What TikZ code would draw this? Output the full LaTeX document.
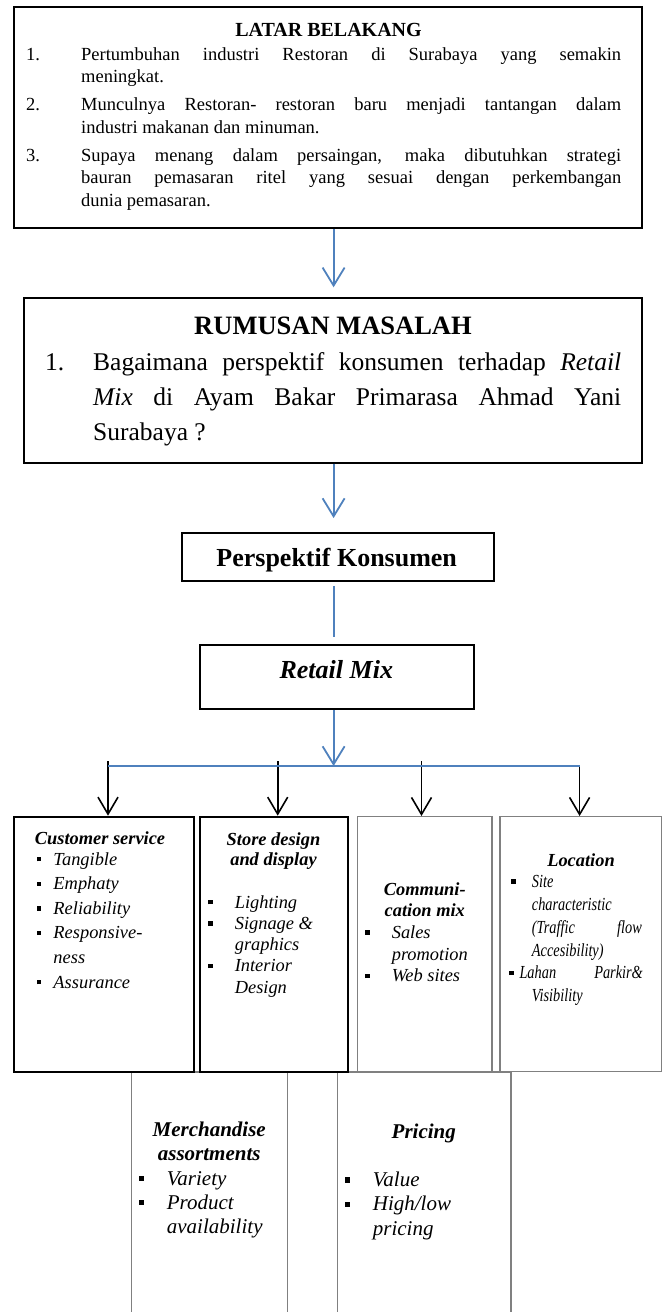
\documentclass[tikz,border=0pt]{standalone}
\usepackage{fontspec}
\setmainfont{Liberation Serif}
\newfontfamily\narrowserif[FakeStretch=0.78]{Liberation Serif}
\usepackage{tikz}
\usetikzlibrary{arrows.meta,positioning}
\definecolor{lineblue}{HTML}{4F81BD}
\definecolor{boxgray}{HTML}{808080}
\newcommand{\sqb}{\rule[0.2em]{0.24em}{0.24em}}
\newcommand{\bul}[1]{\makebox[#1][l]{\sqb}}

\begin{document}
\begin{tikzpicture}[x=1pt, y=-1pt,
    box/.style={draw, line width=2pt, inner sep=0pt},
    graybox/.style={draw=boxgray, line width=1.4pt, inner sep=0pt},
    blueline/.style={draw=lineblue, line width=1.8pt},
    bluearrow/.style={blueline, -{Straight Barb[length=18pt, width=22pt]}},
    blackarrow/.style={line width=1.6pt, -{Straight Barb[length=17pt, width=20pt]}},
    txt/.style={inner sep=0pt, anchor=base west, align=left},
    head/.style={inner sep=0pt, anchor=base, align=center}]
      \useasboundingbox (0,0) rectangle (669,1312);
      \clip (0,0) rectangle (669,1312);

      % boxes
      \node[box, minimum width=628pt, minimum height=221pt] (latar) at (328,117.5) {};
      \node[box, minimum width=617.7pt, minimum height=164.4pt] (rumusan) at (333.2,380.5) {};
      \node[box, minimum width=311.6pt, minimum height=47.7pt] (persp) at (337.8,556.9) {};
      \node[box, minimum width=274.4pt, minimum height=63.7pt] (retail) at (337.2,677.2) {};
      \node[graybox, minimum width=156pt, minimum height=270pt] (ma) at (209.7,1207) {};
      \node[graybox, minimum width=173.1pt, minimum height=270pt] (pr) at (424.25,1207) {};
      \node[graybox, minimum width=134.4pt, minimum height=255pt] (cm) at (424.8,944.2) {};
      \node[graybox, minimum width=161.7pt, minimum height=255pt] (loc) at (580.85,944.2) {};
      \node[box, minimum width=180pt, minimum height=255pt] (cs) at (104,944.2) {};
      \node[box, minimum width=148pt, minimum height=255pt] (sd) at (273.5,944.2) {};

      % texts (multi-line nodes sit on their last baseline)
      \node[head, font=\bfseries\fontsize{20}{24}\selectfont] (latarT) at (328.5,36.7) {LATAR BELAKANG};
      \node[txt, font=\fontsize{18.5}{22.5}\selectfont] (latarL) at (26,206) {%
        \makebox[55pt][l]{1.}\makebox[540pt][s]{Pertumbuhan industri Restoran di Surabaya yang semakin}\\
        \hspace*{55pt}meningkat.\\[5.5pt]
        \makebox[55pt][l]{2.}\makebox[540pt][s]{Munculnya Restoran- restoran baru menjadi tantangan dalam}\\
        \hspace*{55pt}industri makanan dan minuman.\\[5.5pt]
        \makebox[55pt][l]{3.}\makebox[540pt][s]{Supaya menang dalam persaingan, maka dibutuhkan strategi}\\
        \hspace*{55pt}\makebox[540pt][s]{bauran pemasaran ritel yang sesuai dengan perkembangan}\\
        \hspace*{55pt}dunia pemasaran.};
      \node[head, font=\bfseries\fontsize{26.5}{30}\selectfont] (rumT) at (333,334) {RUMUSAN MASALAH};
      \node[txt, font=\fontsize{25.5}{35}\selectfont] (rumL) at (45,440) {%
        \makebox[48pt][l]{1.}\makebox[528pt][s]{Bagaimana perspektif konsumen terhadap \textit{Retail}}\\
        \hspace*{48pt}\makebox[528pt][s]{\textit{Mix} di Ayam Bakar Primarasa Ahmad Yani}\\
        \hspace*{48pt}Surabaya ?};
      \node[head, font=\bfseries\fontsize{26}{30}\selectfont] (perspT) at (336.7,566.7) {Perspektif Konsumen};
      \node[head, font=\bfseries\itshape\fontsize{26}{30}\selectfont] (retailT) at (336.3,678) {Retail Mix};

      \node[head, font=\bfseries\itshape\fontsize{18.4}{20}\selectfont] (csT) at (100,844.3) {Customer service};
      \node[txt, font=\itshape\fontsize{18.4}{24.6}\selectfont] (csL) at (36.5,988) {%
        \bul{16.8pt}Tangible\\ \bul{16.8pt}Emphaty\\ \bul{16.8pt}Reliability\\
        \bul{16.8pt}Responsive-\\ \hspace*{16.8pt}ness\\ \bul{16.8pt}Assurance};
      \node[head, font=\bfseries\itshape\fontsize{18.4}{20}\selectfont] (sdT) at (273.5,865) {Store design\\and display};
      \node[txt, font=\itshape\fontsize{18.4}{21.25}\selectfont] (sdL) at (208,993) {%
        \bul{26.6pt}Lighting\\ \bul{26.6pt}Signage \&\\ \hspace*{26.6pt}graphics\\
        \bul{26.6pt}Interior\\ \hspace*{26.6pt}Design};
      \node[head, font=\bfseries\itshape\fontsize{18.4}{21.7}\selectfont] (cmT) at (424.8,916.7) {Communi-\\cation mix};
      \node[txt, font=\itshape\fontsize{18.4}{21.7}\selectfont] (cmL) at (365,981.7) {%
        \bul{26.6pt}Sales\\ \hspace*{26.6pt}promotion\\ \bul{26.6pt}Web sites};
      \node[head, font=\bfseries\itshape\fontsize{18.4}{22}\selectfont] (locT) at (581,866) {Location};
      \node[txt, font=\narrowserif\itshape\fontsize{18.4}{22.9}\selectfont] (locL) at (509,1001.8) {%
        \hspace*{2pt}\bul{20.7pt}Site\\
        \hspace*{22.7pt}characteristic\\
        \hspace*{22.7pt}\makebox[110pt][s]{(Traffic flow}\\
        \hspace*{22.7pt}Accesibility)\\
        \bul{10.3pt}\makebox[123.4pt][s]{Lahan Parkir\&}\\
        \hspace*{22.7pt}Visibility};

      \node[head, font=\bfseries\itshape\fontsize{21}{24}\selectfont] (maT) at (209.2,1160) {Merchandise\\assortments};
      \node[txt, font=\itshape\fontsize{21}{24.2}\selectfont] (maL) at (139,1233.4) {%
        \bul{27.7pt}Variety\\ \bul{27.7pt}Product\\ \hspace*{27.7pt}availability};
      \node[head, font=\bfseries\itshape\fontsize{21}{24}\selectfont] (prT) at (423.8,1138.3) {Pricing};
      \node[txt, font=\itshape\fontsize{21}{24.2}\selectfont] (prL) at (345,1235.1) {%
        \bul{27.7pt}Value\\ \bul{27.7pt}High/low\\ \hspace*{27.7pt}pricing};

      % connectors
      \coordinate (spine) at (333.6,0);
      \coordinate (barL) at (108,766);
      \coordinate (barR) at (579.6,766);
      \coordinate (k1) at (108,761);
      \coordinate (k2) at (277.7,761);
      \coordinate (k3) at (421.5,761);
      \draw[bluearrow, shorten >=10pt] (spine |- latar.south) -- (spine |- rumusan.north);
      \draw[bluearrow, shorten >=14pt] (spine |- rumusan.south) -- (spine |- persp.north);
      \draw[blueline, shorten <=4pt, shorten >=7pt] (spine |- persp.south) -- (spine |- retail.north);
      \draw[blackarrow] (k1) -- (k1 |- cs.north);
      \draw[blackarrow] (k2) -- (k2 |- sd.north);
      \draw[blackarrow] (k3) -- (k3 |- cm.north);
      \draw[blackarrow] (barR) -- (barR |- loc.north);
      \draw[blueline] (barL) -- (barR);
      \draw[bluearrow] (spine |- retail.south) -- (spine |- barL);
\end{tikzpicture}
\end{document}
